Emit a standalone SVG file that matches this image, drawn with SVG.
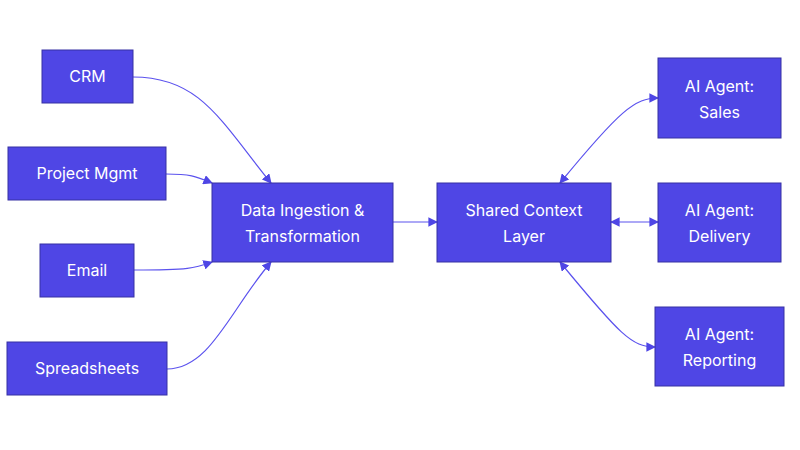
<svg xmlns="http://www.w3.org/2000/svg" width="800" height="450" viewBox="0 0 800 450">
<style>
.n rect{fill:#4f46e5;stroke:#3730a3;stroke-width:1}
.n text{fill:#fff;font-family:Inter,"Liberation Sans",sans-serif;font-size:16px;text-anchor:middle}
.e path{fill:none;stroke:#5b52ee;stroke-width:1.2}
</style>
<defs>
<marker id="a" viewBox="0 0 10 10" refX="9" refY="5" markerWidth="8" markerHeight="8" orient="auto-start-reverse"><path d="M0,0L10,5L0,10z" fill="#4f46e5"/></marker>
</defs>
<rect width="800" height="450" fill="#fff"/>
<g class="e">
<path d="M133,77 C200,77 220,120 271,183" marker-end="url(#a)"/>
<path d="M166,174 C190,174 195,176 212,183" marker-end="url(#a)"/>
<path d="M134,270 C190,270 195,268 212,262" marker-end="url(#a)"/>
<path d="M167,369 C210,369 230,310 271,262" marker-end="url(#a)"/>
<path d="M393,222 L437,222" marker-end="url(#a)"/>
<path d="M560,183 C620,110 635,98 658,98" marker-start="url(#a)" marker-end="url(#a)"/>
<path d="M611,222 L658,222" marker-start="url(#a)" marker-end="url(#a)"/>
<path d="M560,262 C620,335 632,347 655,347" marker-start="url(#a)" marker-end="url(#a)"/>
</g>
<g id="crm" class="n"><rect x="42" y="50" width="91" height="53"/><text x="87.5" y="82">CRM</text></g>
<g id="pm" class="n"><rect x="8" y="147" width="158" height="53"/><text x="87" y="179">Project Mgmt</text></g>
<g id="email" class="n"><rect x="40" y="244" width="94" height="53"/><text x="87" y="276">Email</text></g>
<g id="sheets" class="n"><rect x="7" y="342" width="160" height="53"/><text x="87" y="374">Spreadsheets</text></g>
<g id="ingest" class="n"><rect x="212" y="183" width="181" height="79"/><text x="302.5" y="216">Data Ingestion &amp;</text><text x="302.5" y="242">Transformation</text></g>
<g id="shared" class="n"><rect x="437" y="183" width="174" height="79"/><text x="524" y="216">Shared Context</text><text x="524" y="242">Layer</text></g>
<g id="sales" class="n"><rect x="658" y="58" width="123" height="80"/><text x="719.5" y="92">AI Agent:</text><text x="719.5" y="118">Sales</text></g>
<g id="delivery" class="n"><rect x="658" y="183" width="123" height="79"/><text x="719.5" y="216">AI Agent:</text><text x="719.5" y="242">Delivery</text></g>
<g id="reporting" class="n"><rect x="655" y="307" width="129" height="79"/><text x="719.5" y="340">AI Agent:</text><text x="719.5" y="366">Reporting</text></g>
</svg>
